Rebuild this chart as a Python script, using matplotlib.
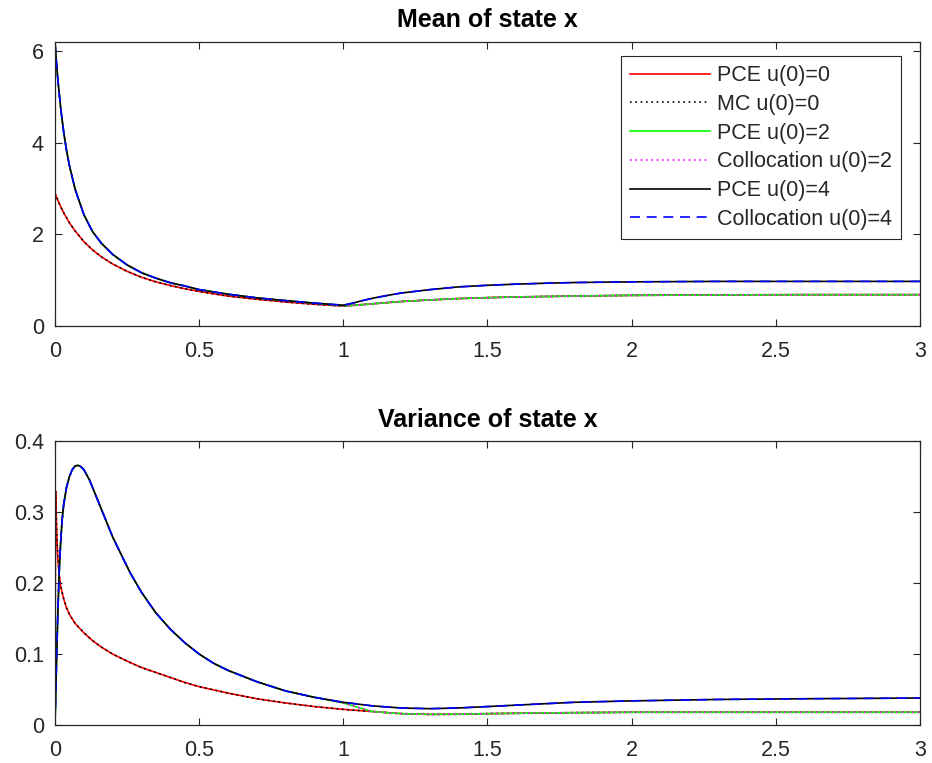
import matplotlib
matplotlib.use("Agg")
import matplotlib.pyplot as plt

plt.rcParams['font.family'] = ['Liberation Sans', 'DejaVu Sans']

# ---- mean of state x ----
t_mean_u0 = [0, 0.01, 0.02, 0.03, 0.05, 0.07, 0.1, 0.13, 0.16, 0.2, 0.25, 0.3, 0.35, 0.4, 0.45, 0.5,
             0.6, 0.7, 0.8, 0.9, 1.0, 1.03, 1.06, 1.1, 1.15, 1.2, 1.3, 1.4, 1.5, 1.6, 1.8, 2.0,
             2.3, 2.6, 3.0]
mean_u0 = [2.90, 2.74, 2.60, 2.47, 2.25, 2.07, 1.84, 1.66, 1.51, 1.35, 1.19, 1.06, 0.96, 0.88, 0.81, 0.75,
           0.65, 0.58, 0.52, 0.47, 0.43, 0.445, 0.46, 0.48, 0.505, 0.53, 0.565, 0.595, 0.615, 0.63, 0.65, 0.665,
           0.675, 0.68, 0.68]

t_mean_u4 = [0, 0.005, 0.01, 0.02, 0.03, 0.04, 0.05, 0.07, 0.1, 0.13, 0.16, 0.2, 0.25, 0.3, 0.35, 0.4,
             0.45, 0.5, 0.6, 0.7, 0.8, 0.9, 1.0, 1.03, 1.06, 1.1, 1.15, 1.2, 1.3, 1.4, 1.5, 1.6,
             1.7, 1.8, 2.0, 2.3, 2.6, 3.0]
mean_u4 = [6.20, 5.76, 5.37, 4.74, 4.24, 3.83, 3.50, 2.98, 2.43, 2.06, 1.81, 1.56, 1.33, 1.16, 1.04, 0.94,
           0.87, 0.79, 0.69, 0.61, 0.55, 0.495, 0.45, 0.49, 0.54, 0.60, 0.66, 0.715, 0.79, 0.85, 0.885, 0.91,
           0.93, 0.945, 0.96, 0.97, 0.97, 0.97]

# u(0)=2 runs along the u(0)=4 branch up to t=1 and along the u(0)=0 branch afterwards
t_mean_u2 = [0, 0.005, 0.01, 0.02, 0.03, 0.04, 0.05, 0.07, 0.1, 0.13, 0.16, 0.2, 0.25, 0.3, 0.35, 0.4,
             0.45, 0.5, 0.6, 0.7, 0.8, 0.9, 1.0, 1.03, 1.06, 1.1, 1.15, 1.2, 1.3, 1.4, 1.5, 1.6,
             1.8, 2.0, 2.3, 2.6, 3.0]
mean_u2 = [6.20, 5.76, 5.37, 4.74, 4.24, 3.83, 3.50, 2.98, 2.43, 2.06, 1.81, 1.56, 1.33, 1.16, 1.04, 0.94,
           0.87, 0.79, 0.69, 0.61, 0.55, 0.495, 0.44, 0.445, 0.46, 0.48, 0.505, 0.53, 0.565, 0.595, 0.615, 0.63,
           0.65, 0.665, 0.675, 0.68, 0.68]

# ---- variance of state x ----
t_var_u0 = [0, 0.001, 0.002, 0.004, 0.007, 0.01, 0.015, 0.02, 0.03, 0.04, 0.05, 0.07, 0.1, 0.13, 0.16,
            0.2, 0.25, 0.3, 0.35, 0.4, 0.45, 0.5, 0.6, 0.7, 0.8, 0.9, 1.0, 1.1, 1.2, 1.3, 1.4, 1.5,
            1.7, 2.0, 2.5, 3.0]
var_u0 = [0.0, 0.20, 0.33, 0.30, 0.26, 0.235, 0.21, 0.195, 0.178, 0.165, 0.156, 0.143, 0.13, 0.119, 0.11,
          0.10, 0.09, 0.081, 0.074, 0.067, 0.06, 0.054, 0.045, 0.037, 0.031, 0.026, 0.022, 0.019, 0.016, 0.015,
          0.0152, 0.016, 0.017, 0.018, 0.018, 0.018]

t_var_u4 = [0, 0.003, 0.006, 0.01, 0.015, 0.02, 0.025, 0.03, 0.04, 0.05, 0.06, 0.07, 0.08, 0.09, 0.1,
            0.12, 0.14, 0.16, 0.18, 0.2, 0.23, 0.26, 0.3, 0.35, 0.4, 0.45, 0.5, 0.55, 0.6, 0.7, 0.8,
            0.9, 1.0, 1.1, 1.2, 1.3, 1.4, 1.5, 1.6, 1.8, 2.0, 2.3, 2.6, 3.0]
var_u4 = [0.0, 0.05, 0.10, 0.16, 0.22, 0.26, 0.29, 0.31, 0.335, 0.35, 0.36, 0.365, 0.366, 0.364, 0.36,
          0.345, 0.325, 0.305, 0.285, 0.265, 0.24, 0.215, 0.187, 0.158, 0.135, 0.116, 0.10, 0.087, 0.077, 0.061,
          0.048, 0.039, 0.032, 0.027, 0.024, 0.023, 0.024, 0.026, 0.028, 0.032, 0.034, 0.036, 0.037, 0.038]

t_var_u2 = [0, 0.003, 0.006, 0.01, 0.015, 0.02, 0.025, 0.03, 0.04, 0.05, 0.06, 0.07, 0.08, 0.09, 0.1,
            0.12, 0.14, 0.16, 0.18, 0.2, 0.23, 0.26, 0.3, 0.35, 0.4, 0.45, 0.5, 0.55, 0.6, 0.7, 0.8,
            0.9, 1.0, 1.1, 1.2, 1.3, 1.4, 1.5, 1.7, 2.0, 2.5, 3.0]
var_u2 = [0.0, 0.05, 0.10, 0.16, 0.22, 0.26, 0.29, 0.31, 0.335, 0.35, 0.36, 0.365, 0.366, 0.364, 0.36,
          0.345, 0.325, 0.305, 0.285, 0.265, 0.24, 0.215, 0.187, 0.158, 0.135, 0.116, 0.10, 0.087, 0.077, 0.061,
          0.048, 0.039, 0.031, 0.019, 0.016, 0.015, 0.0152, 0.016, 0.017, 0.018, 0.018, 0.018]

legend_labels = ['PCE u(0)=0', 'MC u(0)=0', 'PCE u(0)=2', 'Collocation u(0)=2',
                 'PCE u(0)=4', 'Collocation u(0)=4']

fig = plt.figure(figsize=(9.32, 7.63), dpi=100)
ax1 = fig.add_axes([0.059, 0.573, 0.928, 0.372])
ax2 = fig.add_axes([0.059, 0.0498, 0.928, 0.372])

lw = 1.2
dot = (0, (1, 2.2))
dash = (0, (6, 4))


def draw(ax, t0, y0, t2, y2, t4, y4):
    ax.plot(t0, y0, color='#ff0000', lw=lw, label=legend_labels[0])
    ax.plot(t0, y0, color='black', lw=lw, linestyle=dot, label=legend_labels[1])
    ax.plot(t2, y2, color='#00ff00', lw=lw, label=legend_labels[2])
    ax.plot(t2, y2, color='#ff00ff', lw=lw, linestyle=dot, label=legend_labels[3])
    ax.plot(t4, y4, color='black', lw=lw, label=legend_labels[4])
    ax.plot(t4, y4, color='#0000ff', lw=lw, linestyle=dash, label=legend_labels[5])


draw(ax1, t_mean_u0, mean_u0, t_mean_u2, mean_u2, t_mean_u4, mean_u4)
draw(ax2, t_var_u0, var_u0, t_var_u2, var_u2, t_var_u4, var_u4)

ax1.set_xlim(0, 3)
ax1.set_ylim(0, 6.2)
ax1.set_yticks([0, 2, 4, 6])
ax2.set_xlim(0, 3)
ax2.set_ylim(0, 0.4)
ax2.set_yticks([0, 0.1, 0.2, 0.3, 0.4])

for ax in (ax1, ax2):
    ax.set_xticks([0, 0.5, 1, 1.5, 2, 2.5, 3])
    ax.set_xticklabels(['0', '0.5', '1', '1.5', '2', '2.5', '3'])
    ax.tick_params(direction='in', length=5, width=0.8, top=True, right=True,
                   labelsize=15.5, colors='#262626')
    ax.tick_params(axis='x', pad=11)
    ax.tick_params(axis='y', pad=8)
    for s in ax.spines.values():
        s.set_color('#262626')
        s.set_linewidth(0.9)

ax2.set_yticklabels(['0', '0.1', '0.2', '0.3', '0.4'])

ax1.set_title('Mean of state x', fontsize=18, fontweight='bold', pad=11)
ax2.set_title('Variance of state x', fontsize=18, fontweight='bold', pad=10)

leg = ax1.legend(loc='upper right', bbox_to_anchor=(0.9785, 0.9505), fontsize=15.5,
                 frameon=True, fancybox=False, edgecolor='#262626', framealpha=1,
                 handlelength=3.7, handletextpad=0.35, labelspacing=0.36,
                 borderpad=0.42, borderaxespad=0)
leg.get_frame().set_linewidth(0.8)
for txt in leg.get_texts():
    txt.set_color('#262626')

fig.savefig('out.png', dpi=100)
